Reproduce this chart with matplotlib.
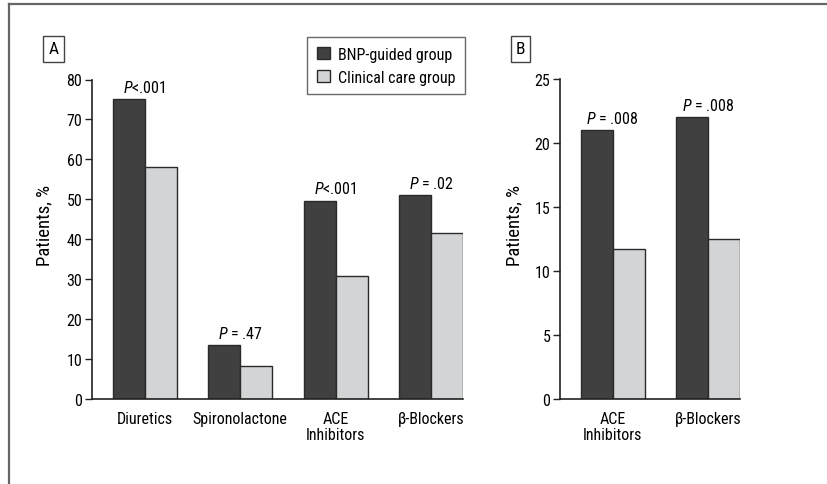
import matplotlib
matplotlib.use("Agg")
import matplotlib.pyplot as plt
from matplotlib import font_manager
from matplotlib.lines import Line2D
import numpy as np

# ---- data ----
cats_a = ["Diuretics", "Spironolactone", "ACE\nInhibitors", "β-Blockers"]
bnp_a = [75.0, 13.4, 49.7, 51.1]
clin_a = [58.1, 8.2, 30.9, 41.6]
pvals_a = ["<.001", " = .47", "<.001", " = .02"]

cats_b = ["ACE\nInhibitors", "β-Blockers"]
bnp_b = [21.0, 22.0]
clin_b = [11.7, 12.5]
pvals_b = [" = .008", " = .008"]

series_names = ["BNP-guided group", "Clinical care group"]
yticks_a = [0, 10, 20, 30, 40, 50, 60, 70, 80]
yticks_b = [0, 5, 10, 15, 20, 25]

# ---- fonts ----
names = {f.name for f in font_manager.fontManager.ttflist}
fam = "DejaVu Sans"
for cand in ["Roboto Condensed", "Archivo Narrow", "Liberation Sans Narrow",
             "Barlow Semi Condensed", "Asap Condensed"]:
    if cand in names:
        fam = cand
        break
plt.rcParams["font.family"] = [fam, "DejaVu Sans"]
plt.rcParams["mathtext.fontset"] = "custom"
plt.rcParams["mathtext.it"] = f"{fam}:italic"
plt.rcParams["mathtext.rm"] = fam

DARK = "#404040"
LIGHT = "#d3d4d6"
EDGE = "#2a2a2a"
FS = 11.5

W, H = 827, 485
fig = plt.figure(figsize=(W / 100, H / 100), dpi=100)

def ax_rect(l, r, t, b):
    return [l / W, 1 - b / H, (r - l) / W, (b - t) / H]

bw = 0.335

def draw(ax, cats, bnp, clin, pvals, yticks, ymax):
    x = np.arange(len(cats))
    ax.bar(x - bw / 2, bnp, bw, color=DARK, edgecolor=EDGE, linewidth=1.0, label=series_names[0])
    ax.bar(x + bw / 2, clin, bw, color=LIGHT, edgecolor=EDGE, linewidth=1.0, label=series_names[1])
    ax.set_xlim(-0.55, len(cats) - 1 + bw)
    ax.set_ylim(0, ymax)
    ax.set_yticks(yticks)
    ax.set_xticks(x)
    ax.set_xticklabels(cats, fontsize=FS, linespacing=1.05)
    ax.tick_params(axis="x", length=0, pad=9)
    ax.tick_params(axis="y", length=5, width=1, direction="out", labelsize=FS, pad=2, color="#222")
    for s in ["top", "right"]:
        ax.spines[s].set_visible(False)
    for s in ["left", "bottom"]:
        ax.spines[s].set_linewidth(1.2)
        ax.spines[s].set_color("#222")
    ax.set_ylabel("Patients, %", fontsize=13.5)
    for xi, v, p in zip(x, bnp, pvals):
        ax.annotate(r"$\it{P}$" + p, (xi, max(v, 0)), xytext=(0, 3), textcoords="offset points",
                    ha="center", va="bottom", fontsize=FS)

axA = fig.add_axes(ax_rect(92, 463, 80.5, 400))
draw(axA, cats_a, bnp_a, clin_a, pvals_a, yticks_a, 80)
axB = fig.add_axes(ax_rect(560, 740, 80, 400))
draw(axB, cats_b, bnp_b, clin_b, pvals_b, yticks_b, 25)

# ylabel positions (pixels converted to axes fraction)
axA.yaxis.set_label_coords((53 - 92) / (463 - 92), 0.545)
axB.yaxis.set_label_coords((523 - 560) / (740 - 560), 0.545)

# legend
leg = axA.legend(loc="upper left", bbox_to_anchor=((307 - 92) / 371, 1 + (80.5 - 38) / 319.5),
                 frameon=True, fancybox=False, edgecolor="#444", fontsize=FS,
                 handlelength=0.85, handleheight=0.85, handletextpad=0.5,
                 borderpad=0.6, labelspacing=0.5, borderaxespad=0)
leg.get_frame().set_linewidth(1.0)

# panel labels
for lab, x0 in [("A", 41.5), ("B", 508.5)]:
    fig.text((x0 + 12) / W, 1 - 50 / H, lab, ha="center", va="center", fontsize=FS + 1,
             bbox=dict(boxstyle="square,pad=0.3", fc="white", ec="#444", lw=1.0))

# outer frame
fig.add_artist(Line2D([9 / W, 1], [1 - 5 / H, 1 - 5 / H], color="#666", lw=1.6))
fig.add_artist(Line2D([9 / W, 9 / W], [0, 1 - 5 / H], color="#666", lw=1.6))

fig.savefig("out.png", dpi=100)
